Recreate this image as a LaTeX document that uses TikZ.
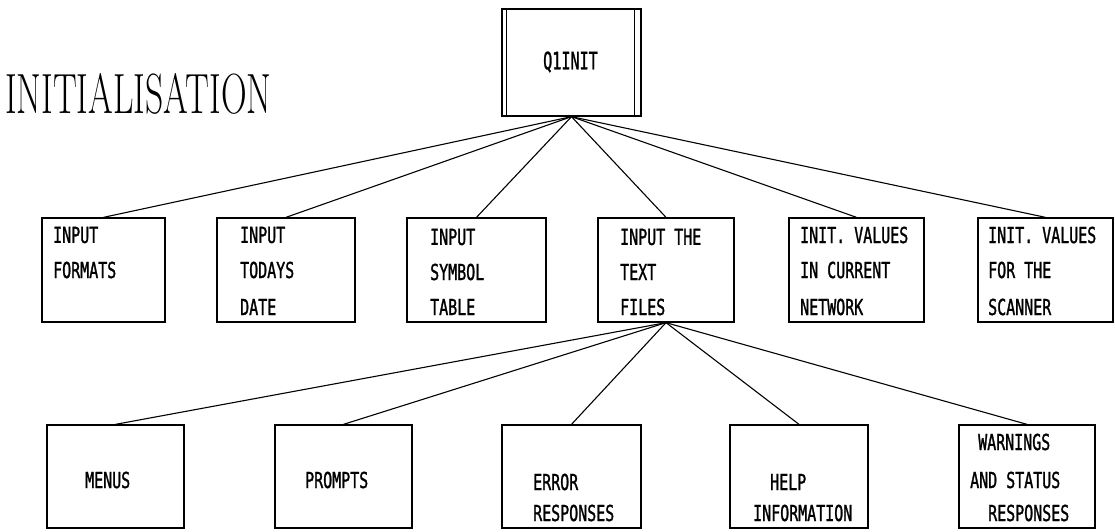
\documentclass[tikz,border=0pt]{standalone}
\usepackage{fontspec}
% narrow monospaced lettering for the chart boxes
\newfontfamily\plotfont[FakeStretch=0.68,FakeBold=1.2]{DejaVu Sans Mono}
\newfontfamily\rootfont[FakeStretch=0.63,FakeBold=1.2]{DejaVu Sans Mono}
\begin{document}
\begin{tikzpicture}[x=1pt,y=-1pt,
  box/.style={draw, line width=1.3pt, inner sep=0pt, minimum height=104pt},
  lowbox/.style={draw, line width=1.3pt, inner sep=0pt, minimum height=103pt},
  link/.style={line width=1.1pt},
  txt/.style={anchor=west, inner sep=0pt, font=\plotfont\fontsize{22}{26}\selectfont}]
\useasboundingbox (0,0) rectangle (1115,532);

% heading
\node[anchor=west, inner sep=0pt] (title) at (5,94)
  {\scalebox{0.64}[1.02]{\fontsize{55.6}{60}\selectfont INITIALISATION}};

% root module (double sides)
\node[draw, line width=1.3pt, inner sep=0pt, minimum width=139pt, minimum height=107pt] (q1) at (571.5,62.5) {};
\draw[line width=1.1pt] ([xshift=5pt]q1.north west) -- ([xshift=5pt]q1.south west);
\draw[line width=1.1pt] ([xshift=-7pt]q1.north east) -- ([xshift=-7pt]q1.south east);
\node[txt, font=\rootfont\fontsize{24}{28}\selectfont] (q1t) at (543,62) {Q1INIT};

% second level
\node[box, minimum width=123pt] (b1) at (103.5,270) {};
\node[box, minimum width=138pt] (b2) at (286,270) {};
\node[box, minimum width=139pt] (b3) at (476.5,270) {};
\node[box, minimum width=136pt] (b4) at (666,270) {};
\node[box, minimum width=135pt] (b5) at (856.5,270) {};
\node[box, minimum width=135pt] (b6) at (1045.5,270) {};

\node[txt] (b1a) at (53,235) {INPUT};
\node[txt] (b1b) at (53,270) {FORMATS};
\node[txt] (b2a) at (240,235) {INPUT};
\node[txt] (b2b) at (240,270) {TODAYS};
\node[txt] (b2c) at (240,307) {DATE};
\node[txt] (b3a) at (430,237) {INPUT};
\node[txt] (b3b) at (430,272) {SYMBOL};
\node[txt] (b3c) at (430,307) {TABLE};
\node[txt] (b4a) at (620,237) {INPUT THE};
\node[txt] (b4b) at (620,272) {TEXT};
\node[txt] (b4c) at (620,307) {FILES};
\node[txt] (b5a) at (800,235) {INIT. VALUES};
\node[txt] (b5b) at (800,270) {IN CURRENT};
\node[txt] (b5c) at (800,307) {NETWORK};
\node[txt] (b6a) at (988,235) {INIT. VALUES};
\node[txt] (b6b) at (988,270) {FOR THE};
\node[txt] (b6c) at (988,307) {SCANNER};

% third level (text files)
\node[lowbox, minimum width=137pt] (c1) at (115.5,476.5) {};
\node[lowbox, minimum width=137pt] (c2) at (343.5,476.5) {};
\node[lowbox, minimum width=139pt] (c3) at (571.5,476.5) {};
\node[lowbox, minimum width=138pt] (c4) at (799,476.5) {};
\node[lowbox, minimum width=136pt] (c5) at (1027,476.5) {};

\node[txt] (c1a) at (85,480) {MENUS};
\node[txt] (c2a) at (305,480) {PROMPTS};
\node[txt] (c3a) at (533,482) {ERROR};
\node[txt] (c3b) at (533,513) {RESPONSES};
\node[txt] (c4a) at (770,482) {HELP};
\node[txt] (c4b) at (753,513) {INFORMATION};
\node[txt] (c5a) at (978,442) {WARNINGS};
\node[txt] (c5b) at (970,480) {AND STATUS};
\node[txt] (c5c) at (988,513) {RESPONSES};

% connectors
\foreach \n in {b1,b2,b3,b4,b5,b6}
  \draw[link] (q1.south) -- (\n.north);
\foreach \n in {c1,c2,c3,c4,c5}
  \draw[link] (b4.south) -- (\n.north);
\end{tikzpicture}
\end{document}
